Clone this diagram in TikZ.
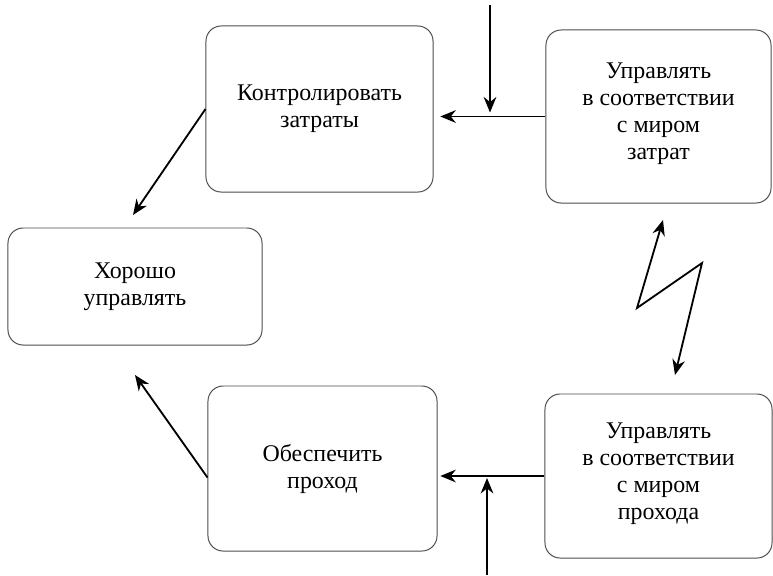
\documentclass[tikz,border=0pt]{standalone}
\usepackage{fontspec}
\setmainfont{Liberation Serif}
\usetikzlibrary{arrows.meta,calc}

\begin{document}
\begin{tikzpicture}[x=0.025cm,y=-0.025cm,
		blok/.style={draw=black!70,line width=0.7pt,rounded corners=0.38cm,align=center,inner sep=0pt,font=\fontsize{17}{19.2}\selectfont},
		strelka/.style={-{Stealth[length=11pt,width=9pt]},line width=1.3pt}]
		\useasboundingbox (0,0) rectangle (773,575);
		\node[blok,minimum width=5.675cm,minimum height=4.15cm] (kontrol) at (319.5,109) {Контролировать\\затраты};
		\node[blok,minimum width=5.625cm,minimum height=4.325cm] (upr1) at (658.5,116.5) {Управлять\\в соответствии\\с миром\\затрат\\[-12pt]};
		\node[blok,minimum width=6.35cm,minimum height=2.925cm] (khorosho) at (135,286.5) {Хорошо\\управлять};
		\node[blok,minimum width=5.725cm,minimum height=4.125cm] (obesp) at (322.5,468.5) {Обеспечить\\проход};
		\node[blok,minimum width=5.675cm,minimum height=4.1cm] (upr2) at (658.5,476) {Управлять\\в соответствии\\с миром\\прохода\\[-12pt]};
		\coordinate (vhod1) at (490,5);
		\coordinate (vhod2) at (487,575);
		\coordinate (kh1) at (133,215);
		\coordinate (kh2) at (135,375);
		\coordinate (m1) at (663,220);
		\coordinate (m2) at (637,308);
		\coordinate (m3) at (702,263);
		\coordinate (m4) at (675,375);
		\draw[strelka,shorten >=0.17cm] (upr1.west) -- (kontrol.east |- upr1.west);
		\draw[strelka,shorten >=0.1cm] (vhod1) -- (vhod1 |- upr1.west);
		\draw[strelka] (kontrol.west) -- (kh1);
		\draw[strelka] ($(obesp.west)+(0,9)$) -- (kh2);
		\draw[strelka,shorten >=0.07cm] (upr2.west) -- (obesp.east |- upr2.west);
		\draw[strelka,shorten >=0.05cm] (vhod2) -- (vhod2 |- upr2.west);
		\draw[{Stealth[length=11pt,width=9pt]}-{Stealth[length=11pt,width=9pt]},line width=1.3pt] (m1) -- (m2) -- (m3) -- (m4);
	\end{tikzpicture}
\end{document}
